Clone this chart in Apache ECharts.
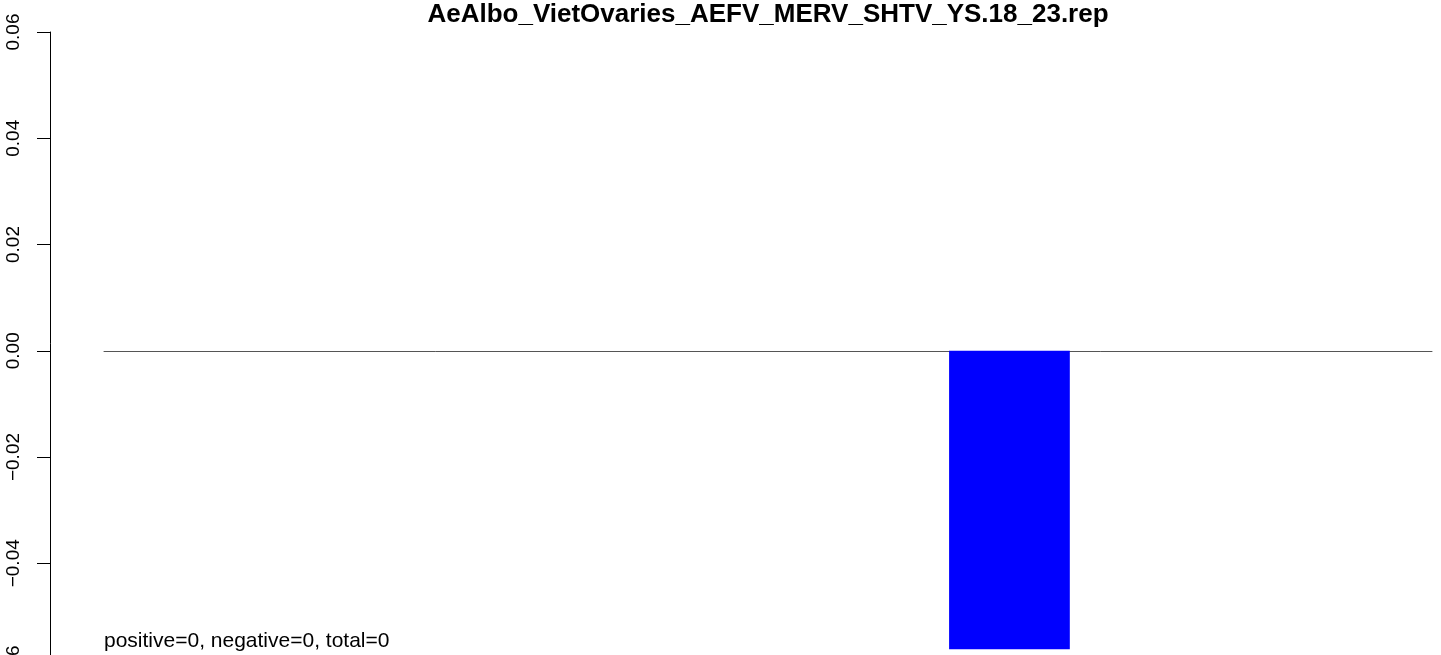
<!DOCTYPE html>
<html>
<head>
<meta charset="utf-8">
<script src="https://cdn.jsdelivr.net/npm/echarts@6/dist/echarts.min.js"></script>
<style>
html,body{margin:0;padding:0;background:#fff;}
#chart{width:1441px;height:655px;}
</style>
</head>
<body>
<div id="chart"></div>
<script>
var titleText = 'AeAlbo_VietOvaries_AEFV_MERV_SHTV_YS.18_23.rep';
var noteText = 'positive=0, negative=0, total=0';
var categories = ['1','2','3','4','5','6','7','8','9','10','11'];
var values = [0, 0, 0, 0, 0, 0, 0, -0.0562, 0, 0, 0];
var yTicks = [-0.06, -0.04, -0.02, 0.00, 0.02, 0.04, 0.06];

var FONT = '"Liberation Sans", Arial, Helvetica, sans-serif';
var chart = echarts.init(document.getElementById('chart'), null, {renderer: 'canvas'});
chart.setOption({
  animation: false,
  backgroundColor: '#ffffff',
  grid: {left: 104, right: 9, top: 32, height: 637.5, containLabel: false, outerBoundsMode: 'none'},
  xAxis: {
    type: 'category',
    data: categories,
    axisLine: {show: true, onZero: true, lineStyle: {color: '#555555', width: 1}},
    axisTick: {show: false},
    axisLabel: {show: false},
    splitLine: {show: false}
  },
  yAxis: {
    type: 'value',
    min: yTicks[0],
    max: yTicks[yTicks.length - 1],
    interval: 0.02,
    offset: 54,
    axisLine: {show: true, lineStyle: {color: '#000', width: 1}},
    axisTick: {show: true, length: 13, lineStyle: {color: '#000', width: 1}},
    splitLine: {show: false},
    axisLabel: {
      rotate: 90,
      margin: 27,
      fontFamily: FONT,
      fontSize: 19,
      color: '#000',
      formatter: function (v) {
        var s = Math.abs(v).toFixed(2);
        return (v < -1e-9 ? '\u2212' : '') + s;
      }
    }
  },
  series: [{
    type: 'bar',
    data: values,
    barCategoryGap: '0%',
    itemStyle: {color: '#0000ff'}
  }],
  graphic: [{
    type: 'text',
    x: 768,
    y: 2,
    style: {text: titleText, font: 'bold 26px ' + FONT, fill: '#000', align: 'center', verticalAlign: 'top'}
  }, {
    type: 'text',
    left: 104,
    top: 631,
    style: {text: noteText, font: '21px ' + FONT, fill: '#000'}
  }]
});
</script>
</body>
</html>
